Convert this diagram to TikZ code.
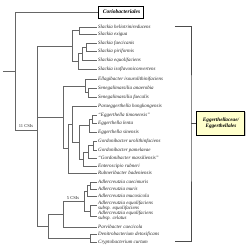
\documentclass[tikz,border=0pt]{standalone}
\usepackage{fontspec}
\setmainfont{Liberation Serif}
\usetikzlibrary{shadows}
\definecolor{boxyellow}{RGB}{255,255,204}
\begin{document}
\begin{tikzpicture}[x=1pt,y=-1pt,
  br/.style={draw=black!60, line width=0.5pt},
  leaf/.style={anchor=west, inner xsep=1pt, inner ysep=0pt, font=\fontsize{5}{5}\selectfont\itshape, text=black!85, align=left},
  csi/.style={font=\fontsize{4.5}{5}\selectfont, inner sep=0pt, text=black!85},
  bracketline/.style={draw=black!70, line width=0.9pt}]
\useasboundingbox (0,0) rectangle (250,250);

% outgroup box
\node[draw, line width=1pt, minimum width=45pt, minimum height=12pt, inner sep=1pt,
      font=\fontsize{5.5}{6}\selectfont\bfseries\itshape] (corio) at (121.5,12) {Coriobacteriales};

% leaves
\node[leaf] (helio) at (97,27) {Slackia heliotrinireducens};
\node[leaf] (exigua) at (97,34) {Slackia exigua};
\node[leaf] (faec) at (97,43) {Slackia faecicanis};
\node[leaf] (piri) at (97,51) {Slackia piriformis};
\node[leaf] (equol) at (97,60) {Slackia equolifaciens};
\node[leaf] (isofl) at (97,69) {Slackia isoflavoniconvertens};
\node[leaf] (ellagi) at (97,79) {Ellagibacter isourolithinifaciens};
\node[leaf] (anaer) at (97,88) {Senegalimassilia anaerobia};
\node[leaf] (faecalis) at (97,97) {Senegalimassilia faecalis};
\node[leaf] (para) at (97,106) {Paraeggerthella hongkongensis};
\node[leaf] (timon) at (97,115) {``Eggerthella timonensis''};
\node[leaf] (lenta) at (97,123) {Eggerthella lenta};
\node[leaf] (sinensis) at (97,132) {Eggerthella sinensis};
\node[leaf] (urol) at (97,141) {Gordonibacter urolithinfaciens};
\node[leaf] (pamel) at (97,150) {Gordonibacter pamelaeae};
\node[leaf] (massil) at (97,158) {``Gordonibacter massiliensis''};
\node[leaf] (entero) at (97,166) {Enteroscipio rubneri};
\node[leaf] (rubneri) at (97,173) {Rubneribacter badeniensis};
\node[leaf] (caecim) at (97,182) {Adlercreutzia caecimuris};
\node[leaf] (muris) at (97,189) {Adlercreutzia muris};
\node[leaf] (mucos) at (97,196) {Adlercreutzia mucosicola};
\node[leaf] (eqeq) at (97,205.5) {Adlercreutzia equolifaciens\\subsp. equolifaciens};
\node[leaf] (celatus) at (97,216) {Adlercreutzia equolifaciens\\subsp. celatus};
\node[leaf] (parvi) at (97,227) {Parvibacter caecicola};
\node[leaf] (denitro) at (97,234) {Denitrobacterium detoxificans};
\node[leaf] (crypto) at (97,242) {Cryptobacterium curtum};

% internal nodes
\coordinate (s1) at (79,30.5);
\coordinate (s2) at (86,47);
\coordinate (s3) at (82,53.5);
\coordinate (s4) at (78,61.25);
\coordinate (S) at (72,45.9);
\coordinate (se) at (88,92.5);
\coordinate (es) at (85,85.75);
\coordinate (e1) at (92,119);
\coordinate (eg) at (89,125.5);
\coordinate (g1) at (93,145.5);
\coordinate (g2) at (88,151.75);
\coordinate (w) at (83,158.9);
\coordinate (q) at (79,142.2);
\coordinate (p) at (72,124.1);
\coordinate (yy) at (68,148.55);
\coordinate (m) at (63,117.15);
\coordinate (a1) at (90,185.5);
\coordinate (a2) at (87,190.75);
\coordinate (a3) at (90,210.75);
\coordinate (a4) at (84,200.75);
\coordinate (ap) at (63,213.9);
\coordinate (dc) at (90,238);
\coordinate (f) at (48,225.9);
\coordinate (E) at (37,130);
\coordinate (root) at (15,71);
\coordinate (rootstub) at (3,71);

% branches
\draw[br] (s1) |- (helio.west); \draw[br] (s1) |- (exigua.west);
\draw[br] (s2) |- (faec.west); \draw[br] (s2) |- (piri.west);
\draw[br] (s3) |- (s2); \draw[br] (s3) |- (equol.west);
\draw[br] (s4) |- (s3); \draw[br] (s4) |- (isofl.west);
\draw[br] (S) |- (s1); \draw[br] (S) |- (s4);
\draw[br] (se) |- (anaer.west); \draw[br] (se) |- (faecalis.west);
\draw[br] (es) |- (ellagi.west); \draw[br] (es) |- (se);
\draw[br] (e1) |- (timon.west); \draw[br] (e1) |- (lenta.west);
\draw[br] (eg) |- (e1); \draw[br] (eg) |- (sinensis.west);
\draw[br] (g1) |- (urol.west); \draw[br] (g1) |- (pamel.west);
\draw[br] (g2) |- (g1); \draw[br] (g2) |- (massil.west);
\draw[br] (w) |- (g2); \draw[br] (w) |- (entero.west);
\draw[br] (q) |- (eg); \draw[br] (q) |- (w);
\draw[br] (p) |- (para.west); \draw[br] (p) |- (q);
\draw[br] (yy) |- (p); \draw[br] (yy) |- (rubneri.west);
\draw[br] (m) |- (es); \draw[br] (m) |- (yy);
\draw[br] (a1) |- (caecim.west); \draw[br] (a1) |- (muris.west);
\draw[br] (a2) |- (a1); \draw[br] (a2) |- (mucos.west);
\draw[br] (a3) |- (eqeq.west); \draw[br] (a3) |- (celatus.west);
\draw[br] (a4) |- (a2); \draw[br] (a4) |- (a3);
\draw[br] (ap) |- (a4); \draw[br] (ap) |- (parvi.west);
\draw[br] (dc) |- (denitro.west); \draw[br] (dc) |- (crypto.west);
\draw[br] (f) |- (ap); \draw[br] (f) |- (dc);
\draw[br] (E) |- (S); \draw[br] (E) |- (m); \draw[br] (E) |- (f);
\draw[br] (root) |- (corio.west); \draw[br] (root) |- (E);
\draw[br] (rootstub) -- (root);

% CSI labels
\node[csi, anchor=south] (csi11) at (26,128) {11 CSIs};
\node[csi, anchor=south] (csi5) at (73,199.5) {5 CSIs};

% family box and bracket
\node[draw, line width=1pt, fill=boxyellow, minimum width=48pt, minimum height=24pt, inner sep=1pt, align=center,
      drop shadow={shadow xshift=1pt, shadow yshift=-1pt, fill=black!40},
      font=\fontsize{5.2}{6.5}\selectfont\bfseries\itshape] (fam) at (221,123) {Eggerthellaceae/\\Eggerthellales};
\coordinate (brtop) at (175,26);
\coordinate (brbot) at (175,241);
\coordinate (brmid) at (191,123);
\draw[bracketline] (brtop) -| (brmid) |- (brbot);
\draw[bracketline] (brmid) -- (fam.west);
\end{tikzpicture}
\end{document}
